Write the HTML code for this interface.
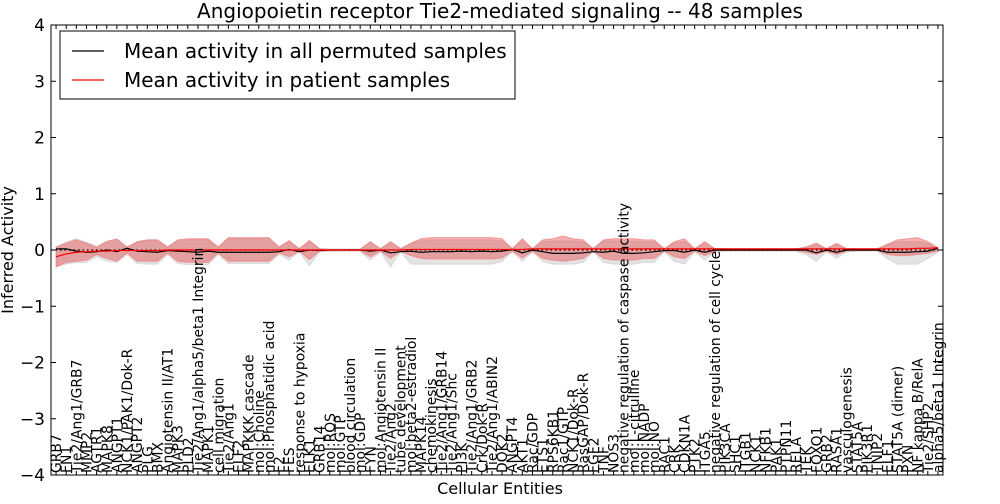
<!DOCTYPE html>
<html><head><meta charset="utf-8"><style>
body{margin:0;background:#fff;width:1000px;height:500px;overflow:hidden;font-family:"DejaVu Sans","Liberation Sans",sans-serif}
</style></head><body>
<svg id="chart" width="1000" height="500" xmlns="http://www.w3.org/2000/svg" font-family="DejaVu Sans, Liberation Sans, sans-serif">
<text x="500" y="18" text-anchor="middle" font-size="20">Angiopoietin receptor Tie2-mediated signaling -- 48 samples</text>
<g id="plot"></g>
<text transform="translate(13,250) rotate(-90)" text-anchor="middle" font-size="16">Inferred Activity</text>
<text x="500" y="494" text-anchor="middle" font-size="16">Cellular Entities</text>
<g>
<rect x="60" y="31" width="455" height="68" fill="#fff" stroke="#000" stroke-width="1"/>
<line x1="72" y1="51" x2="104" y2="51" stroke="#000" stroke-width="1.2"/>
<text x="124" y="58" font-size="20">Mean activity in all permuted samples</text>
<line x1="72" y1="80" x2="104" y2="80" stroke="#f00" stroke-width="1.2"/>
<text x="124" y="87" font-size="20">Mean activity in patient samples</text>
</g>
</svg>
<script>
const categories=["GRB7","FN1","Tie2/Ang1/GRB7","MMP2","AGTR1","MAPK8","ANGPT1","NCK1/PAK1/Dok-R","ANGPT2","PLG","BMX","Angiotensin II/AT1","MAPK3","PLD2","Tie2/Ang1/alpha5/beta1 Integrin","MAPK1","cell migration","Tie2/Ang1","ELF2","MAPKKK cascade","mol:Choline","mol:Phosphatidic acid","F2","FES","response to hypoxia","ELK1","GRB14","mol:ROS","mol:GTP","blood circulation","mol:GDP","FYN","mol:Angiotensin II","Tie2/Ang2","tube development","mol:beta2-estradiol","MAPK14","chemokinesis","Tie2/Ang1/GRB14","Tie2/Ang1/Shc","PI3K","Tie2/Ang1/GRB2","Crk/Dok-R","Tie2/Ang1/ABIN2","DOK2","ANGPT4","AKT1","Rac/GDP","ETS1","RPS6KB1","Rac1/GTP","NCK1/Dok-R","RasGAP/Dok-R","FGF2","TNF","NOS3","negative regulation of caspase activity","mol:L-citrulline","mol:NADP","mol:NO","RAC1","CRK","CDKN1A","PTK2","ITGA5","negative regulation of cell cycle","PIK3CA","SHC1","ITGB1","NCK1","NFKB1","PAK1","PTPN11","RELA","TEK","FOXO1","GRB2","RASA1","vasculogenesis","STAT5A","PIK3R1","TNIP2","ELF1","STAT5A (dimer)","PXN","NF kappa B/RelA","Tie2/SHP2","alpha5/beta1 Integrin"];
const permMean=[0.02,0.02,-0.02,-0.04,-0.03,0.0,-0.03,0.03,-0.02,-0.03,-0.04,-0.01,-0.02,-0.03,-0.04,-0.02,-0.04,-0.04,-0.04,-0.04,-0.04,-0.04,-0.03,0.01,-0.03,0.0,-0.01,0.0,0.0,0.0,0.0,-0.02,0.0,-0.05,-0.03,-0.02,-0.04,-0.03,-0.03,-0.03,-0.02,-0.03,-0.02,-0.03,-0.02,0.01,-0.05,0.0,-0.03,-0.06,-0.06,-0.06,-0.05,-0.03,-0.04,-0.02,-0.06,-0.06,-0.05,-0.03,-0.01,-0.01,-0.04,0.0,-0.04,0.0,0.0,0.0,0.0,0.0,0.0,0.0,0.0,0.0,0.0,-0.05,0.0,-0.04,0.0,0.0,0.0,0.0,-0.04,-0.04,-0.04,-0.03,-0.02,0.03];
const patientMean=[-0.12,-0.07,-0.04,-0.03,-0.02,-0.02,-0.01,-0.01,-0.01,-0.01,-0.01,0.0,0.0,0.0,0.0,0.0,0.0,0.0,0.0,0.0,0.0,0.0,0.0,0.0,0.0,0.0,0.0,0.0,0.0,0.0,0.0,0.0,0.0,0.0,0.0,0.01,0.01,0.01,0.01,0.01,0.01,0.01,0.01,0.01,0.01,0.01,0.01,0.02,0.02,0.02,0.02,0.02,0.02,0.02,0.02,0.02,0.02,0.02,0.02,0.02,0.02,0.02,0.02,0.02,0.02,0.02,0.02,0.02,0.02,0.02,0.02,0.02,0.02,0.02,0.02,0.02,0.02,0.02,0.02,0.02,0.02,0.02,0.02,0.02,0.02,0.03,0.03,0.04];
const patientHi=[0.05,0.12,0.18,0.12,0.05,0.15,0.2,0.05,0.15,0.18,0.18,0.05,0.18,0.2,0.2,0.2,0.05,0.22,0.22,0.22,0.22,0.22,0.05,0.17,0.02,0.17,0.02,0.01,0.01,0.01,0.01,0.15,0.02,0.15,0.02,0.12,0.2,0.22,0.22,0.22,0.22,0.22,0.22,0.22,0.2,0.02,0.2,0.02,0.18,0.2,0.25,0.2,0.18,0.02,0.18,0.2,0.2,0.2,0.18,0.18,0.02,0.15,0.2,0.02,0.15,0.02,0.02,0.02,0.02,0.02,0.02,0.02,0.02,0.02,0.05,0.12,0.02,0.12,0.02,0.02,0.02,0.02,0.1,0.18,0.2,0.22,0.15,0.04];
const patientLo=[-0.3,-0.22,-0.2,-0.18,-0.08,-0.15,-0.2,-0.05,-0.2,-0.2,-0.2,-0.05,-0.2,-0.22,-0.22,-0.22,-0.05,-0.2,-0.2,-0.2,-0.2,-0.2,-0.05,-0.12,-0.02,-0.17,-0.02,-0.01,-0.01,-0.01,-0.01,-0.12,-0.02,-0.15,-0.02,-0.1,-0.15,-0.16,-0.16,-0.16,-0.16,-0.16,-0.16,-0.16,-0.14,-0.02,-0.14,-0.02,-0.15,-0.18,-0.2,-0.18,-0.15,-0.02,-0.15,-0.18,-0.18,-0.18,-0.15,-0.15,-0.02,-0.12,-0.15,-0.02,-0.1,-0.02,-0.01,-0.01,-0.01,-0.01,-0.01,-0.01,-0.01,-0.01,-0.04,-0.08,-0.02,-0.08,-0.02,-0.01,-0.01,-0.01,-0.08,-0.1,-0.1,-0.08,-0.06,-0.02];
const permHi=[0.06,0.14,0.2,0.14,0.06,0.16,0.18,0.06,0.14,0.18,0.18,0.06,0.16,0.18,0.18,0.18,0.06,0.2,0.2,0.2,0.2,0.2,0.06,0.14,0.03,0.15,0.03,0.02,0.02,0.02,0.02,0.14,0.03,0.14,0.03,0.12,0.16,0.18,0.18,0.18,0.18,0.18,0.18,0.18,0.16,0.03,0.16,0.03,0.15,0.16,0.16,0.16,0.15,0.03,0.16,0.16,0.16,0.16,0.15,0.15,0.03,0.13,0.15,0.03,0.12,0.03,0.02,0.02,0.02,0.02,0.02,0.02,0.02,0.02,0.06,0.12,0.03,0.1,0.03,0.02,0.02,0.02,0.1,0.15,0.15,0.15,0.12,0.04];
const permLo=[-0.3,-0.25,-0.22,-0.22,-0.12,-0.2,-0.22,-0.08,-0.24,-0.25,-0.25,-0.08,-0.24,-0.26,-0.26,-0.26,-0.08,-0.24,-0.24,-0.24,-0.24,-0.24,-0.08,-0.18,-0.03,-0.28,-0.03,-0.02,-0.02,-0.02,-0.02,-0.18,-0.03,-0.3,-0.03,-0.25,-0.25,-0.25,-0.25,-0.25,-0.25,-0.25,-0.25,-0.25,-0.2,-0.03,-0.2,-0.03,-0.2,-0.25,-0.25,-0.25,-0.22,-0.03,-0.22,-0.25,-0.25,-0.25,-0.22,-0.22,-0.03,-0.2,-0.25,-0.03,-0.18,-0.03,-0.02,-0.02,-0.02,-0.02,-0.02,-0.02,-0.02,-0.02,-0.08,-0.2,-0.03,-0.15,-0.03,-0.02,-0.02,-0.02,-0.15,-0.25,-0.25,-0.25,-0.15,-0.04];
const yTicks=[-4,-3,-2,-1,0,1,2,3,4];
const yTickLabels=["\u22124","\u22123","\u22122","\u22121","0","1","2","3","4"];

const L=51,R=943,T=25,B=475,N=categories.length;
const xs=i=>L+(i+0.5)*(R-L)/N;
const ys=v=>T+(4-v)*(B-T)/8;
const g=document.getElementById('plot');
const NS='http://www.w3.org/2000/svg';
function mk(t,a){const e=document.createElementNS(NS,t);for(const k in a)e.setAttribute(k,a[k]);g.appendChild(e);return e;}
function band(hi,lo,fill,stroke){
  let d='M'+hi.map((v,i)=>xs(i)+','+ys(v)).join('L')+'L'+lo.map((v,i)=>[i,v]).reverse().map(p=>xs(p[0])+','+ys(p[1])).join('L')+'Z';
  return mk('path',{d:d,fill:fill,stroke:stroke,'stroke-width':1});
}
const gb=band(permHi,permLo,'rgba(200,200,200,0.5)','rgba(200,200,200,0.6)');


const rb=band(patientHi,patientLo,'rgba(230,60,60,0.4)','rgba(245,110,110,0.6)');


const z=mk('line',{x1:L,x2:R,y1:ys(0),y2:ys(0),stroke:'#000','stroke-dasharray':'1.5,3','stroke-width':1.2});


const bl=mk('polyline',{points:permMean.map((v,i)=>xs(i)+','+ys(v)).join(' '),fill:'none',stroke:'#000','stroke-width':1.2});


const rl=mk('polyline',{points:patientMean.map((v,i)=>xs(i)+','+ys(v)).join(' '),fill:'none',stroke:'#f00','stroke-width':1.2});


yTicks.forEach((t,k)=>{
  const y=ys(t);
  mk('line',{x1:L,x2:L+5,y1:y,y2:y,stroke:'#000'});
  mk('line',{x1:R-5,x2:R,y1:y,y2:y,stroke:'#000'});
  const tx=mk('text',{x:L-6,y:y+6,'text-anchor':'end','font-size':17});
  tx.textContent=yTickLabels[k];
  
  
});
categories.forEach((c,i)=>{
  const x=xs(i);
  mk('line',{x1:x,x2:x,y1:B,y2:B-4,stroke:'#000'});
  mk('line',{x1:x,x2:x,y1:T,y2:T+4,stroke:'#000'});
  const tx=mk('text',{transform:'translate('+(x+5)+','+(B-2)+') rotate(-90)','font-size':13.9});
  tx.textContent=c;
  
  
});
const fr=mk('rect',{x:L,y:T,width:R-L,height:B-T,fill:'none',stroke:'#000','stroke-width':1});


</script>
</body></html>
